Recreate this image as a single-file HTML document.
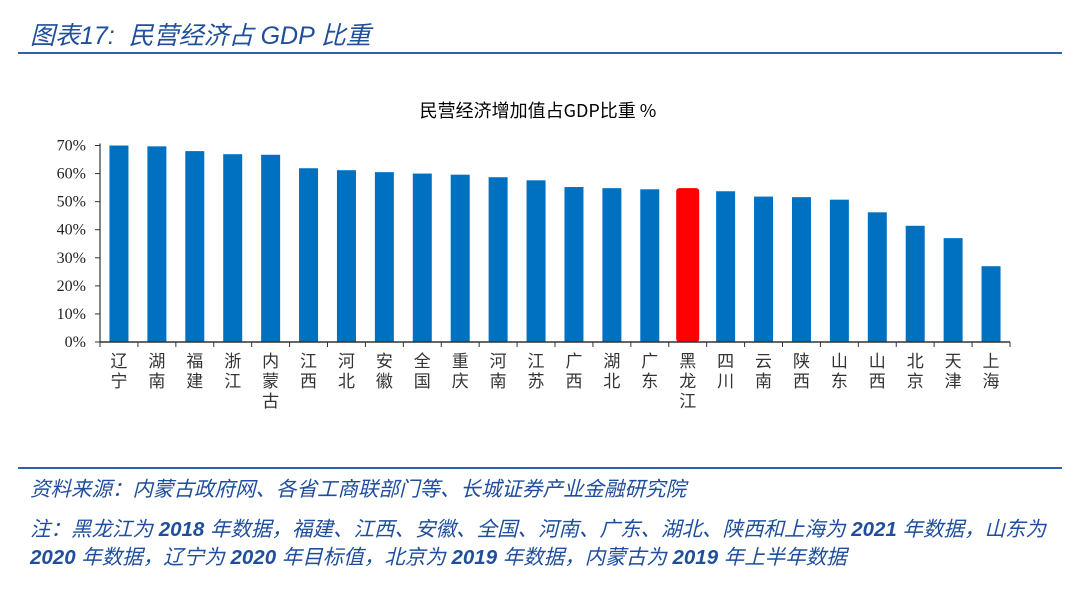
<!DOCTYPE html>
<html><head><meta charset="utf-8"><style>
body{margin:0;width:1080px;height:608px;background:#fff;position:relative;overflow:hidden;font-family:"Liberation Sans","Noto Sans CJK SC",sans-serif}
.h{position:absolute;color:#1f4e9c;font-style:italic;white-space:nowrap}
.line{position:absolute;left:18px;width:1044px;height:1.5px;background:#2e5fab}
</style></head><body>
<div class="h" style="left:30px;top:16px;font-size:25px">图表17:&nbsp; 民营经济占 GDP 比重</div>
<div class="line" style="top:52px"></div>
<svg id="chart" width="1080" height="460" style="position:absolute;left:0;top:0"></svg>
<div class="line" style="top:467px"></div>
<div class="h" style="left:30px;top:472px;font-size:20.5px">资料来源：内蒙古政府网、各省工商联部门等、长城证券产业金融研究院</div>
<div class="h" style="left:30px;top:516px;font-size:20.5px;line-height:28px;width:1050px;white-space:normal">注：黑龙江为 <b>2018</b> 年数据，福建、江西、安徽、全国、河南、广东、湖北、陕西和上海为 <b>2021</b> 年数据，山东为 <b>2020</b> 年数据，辽宁为 <b>2020</b> 年目标值，北京为 <b>2019</b> 年数据，内蒙古为 <b>2019</b> 年上半年数据</div>
<script>
const categories=["辽宁","湖南","福建","浙江","内蒙古","江西","河北","安徽","全国","重庆","河南","江苏","广西","湖北","广东","黑龙江","四川","云南","陕西","山东","山西","北京","天津","上海"];
const values=[70,69.7,68.0,66.9,66.7,61.9,61.2,60.5,60.0,59.6,58.7,57.6,55.2,54.8,54.4,54.8,53.7,51.8,51.6,50.7,46.2,41.4,37.0,27.0];
const highlight="黑龙江";
const yTicks=[0,10,20,30,40,50,60,70];
const NS="http://www.w3.org/2000/svg";
const svg=document.getElementById('chart');
const x0=100,x1=1010,y0=342,yTop=145.5;
const y=v=>y0-(y0-yTop)*v/70;
const step=(x1-x0)/categories.length;
const xc=i=>x0+step*(i+0.5);
function mk(t,a){const e=document.createElementNS(NS,t);for(const k in a)e.setAttribute(k,a[k]);svg.appendChild(e);return e;}
const tt=mk('text',{x:538,y:117,'font-size':18,'text-anchor':'middle',fill:'#000','font-family':'"Noto Sans CJK SC",sans-serif'});
tt.textContent='民营经济增加值占GDP比重  %';


yTicks.forEach(v=>{
 const t=mk('text',{x:86,y:y(v)+5,'font-size':16,'text-anchor':'end',fill:'#222','font-family':'"Liberation Serif",serif'});
 t.textContent=v+'%';
 
 
 const l=mk('line',{x1:x0-5,x2:x0,y1:y(v),y2:y(v),stroke:'#333','stroke-width':1});
 
 
});
categories.forEach((c,i)=>{
 const hl=c===highlight;
 const w=hl?23:19;
 const r=mk('rect',{x:xc(i)-w/2,y:y(values[i]),width:w,height:y0-y(values[i]),fill:hl?'#ff0000':'#0070c0',rx:hl?3:0});
 
 
 [...c].forEach((ch,k)=>{
  const t=mk('text',{x:xc(i),y:367+k*20,'font-size':17,'text-anchor':'middle',fill:'#333','font-family':'"Noto Sans CJK SC",sans-serif'});
  t.textContent=ch;
  
  
 });
});
for(let i=0;i<=categories.length;i++){
 const l=mk('line',{x1:x0+step*i,x2:x0+step*i,y1:y0,y2:y0+5,stroke:'#333','stroke-width':1});
 
 
}
const ax=mk('line',{x1:x0,x2:x0,y1:yTop-2,y2:y0,stroke:'#333','stroke-width':1.2});


const bx=mk('line',{x1:x0,x2:x1,y1:y0,y2:y0,stroke:'#333','stroke-width':1.5});


</script>
</body></html>
